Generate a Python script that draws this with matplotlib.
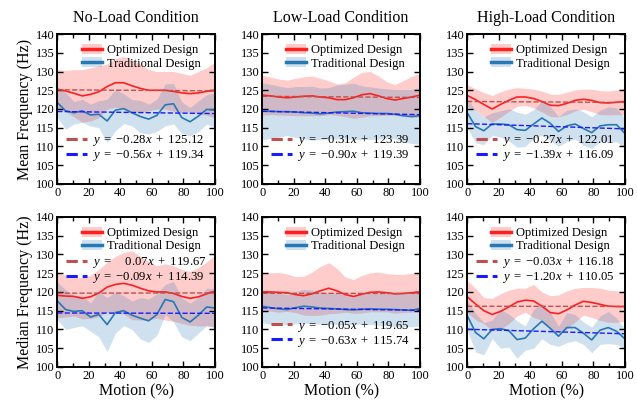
import numpy as np
import matplotlib
matplotlib.use("Agg")
import matplotlib.pyplot as plt
from matplotlib.patches import Patch
from matplotlib.lines import Line2D

# === STYLE ===
plt.rcParams['font.family'] = ['Liberation Serif', 'DejaVu Serif']
plt.rcParams['mathtext.fontset'] = 'custom'
plt.rcParams['mathtext.rm'] = 'Liberation Serif'
plt.rcParams['mathtext.it'] = 'Liberation Serif:italic'
plt.rcParams['mathtext.bf'] = 'Liberation Serif:bold'

OPT_LINE = '#ff1f1f'
OPT_FIT = '#c0504d'
TRAD_LINE = '#2878b5'
TRAD_FIT = '#1a1aff'

# === DATA ===
motion = np.linspace(0, 100, 20)

conditions = ["No-Load Condition", "Low-Load Condition", "High-Load Condition"]
row_labels = ["Mean Frequency (Hz)", "Median Frequency (Hz)"]

# mean frequency
mean_opt_noload = [125.3, 124.8, 124.2, 123.5, 123.9, 124.6, 126.0, 127.0, 127.0, 126.2,
                   125.5, 125.0, 125.0, 125.0, 124.7, 124.3, 124.1, 124.3, 124.7, 125.0]
mean_opt_noload_sd = [5.2, 5.5, 6.3, 7.0, 7.1, 6.9, 6.0, 6.5, 7.0, 6.8,
                      6.5, 5.5, 5.0, 5.0, 5.3, 5.2, 4.9, 5.7, 6.3, 7.5]
mean_trad_noload = [121.7, 119.5, 119.0, 119.5, 118.4, 118.6, 116.8, 119.7, 120.1, 119.0,
                    118.0, 117.3, 118.3, 121.1, 121.4, 117.7, 116.6, 118.1, 119.9, 119.7]
mean_trad_noload_sd = [4.0, 4.9, 3.0, 3.1, 2.9, 3.6, 5.8, 5.5, 4.0, 3.5,
                       4.3, 4.0, 4.3, 5.6, 5.4, 4.2, 3.8, 4.1, 3.9, 4.7]

mean_opt_low = [123.7, 123.5, 123.2, 123.0, 123.2, 123.4, 123.5, 123.2, 123.0, 122.5,
                122.5, 123.0, 123.8, 124.1, 123.5, 122.8, 122.4, 122.8, 123.2, 123.7]
mean_opt_low_sd = [5.3, 5.0, 4.8, 4.7, 5.0, 5.2, 5.3, 5.0, 4.5, 4.2,
                   4.5, 5.5, 6.0, 5.9, 5.3, 4.5, 4.1, 4.8, 5.5, 5.8]
mean_trad_low = [119.4, 119.4, 119.3, 119.3, 119.2, 119.0, 118.9, 118.7, 118.9, 119.2,
                 119.3, 119.4, 119.0, 118.9, 118.8, 118.8, 118.6, 118.2, 118.0, 118.2]
mean_trad_low_sd = [7.6, 7.2, 6.8, 6.4, 6.8, 7.0, 7.2, 6.9, 6.8, 7.2,
                    7.3, 7.5, 7.2, 7.0, 6.8, 6.6, 6.6, 7.0, 7.2, 7.6]

mean_opt_high = [123.6, 122.5, 121.2, 120.0, 121.2, 122.3, 123.2, 123.2, 122.8, 122.0,
                 121.0, 120.9, 121.5, 122.3, 122.6, 122.3, 121.7, 121.6, 121.8, 122.0]
mean_opt_high_sd = [2.9, 2.9, 3.2, 3.6, 3.4, 3.0, 2.5, 2.3, 2.5, 2.8,
                    3.0, 3.0, 3.0, 2.8, 2.7, 3.0, 3.2, 3.2, 3.3, 3.6]
mean_trad_high = [119.0, 115.3, 114.2, 116.0, 116.0, 115.8, 114.5, 114.3, 116.0, 117.6,
                  116.2, 114.0, 115.5, 116.0, 114.8, 113.7, 115.5, 115.8, 115.8, 113.5]
mean_trad_high_sd = [4.0, 4.3, 3.7, 3.0, 3.5, 4.3, 4.7, 4.3, 3.8, 4.6,
                     4.5, 4.0, 4.2, 4.0, 4.5, 4.2, 4.2, 4.8, 4.5, 4.0]

# median frequency
med_opt_noload = [119.1, 118.9, 118.8, 118.3, 118.7, 119.7, 121.3, 122.0, 122.3, 121.8,
                  121.0, 120.3, 120.0, 120.0, 119.6, 118.8, 118.3, 118.7, 119.5, 120.2]
med_opt_noload_sd = [6.0, 5.6, 5.2, 5.5, 5.8, 6.3, 6.7, 7.5, 8.2, 9.2,
                     8.5, 7.7, 7.0, 7.5, 7.4, 7.2, 7.2, 7.8, 8.5, 9.6]
med_trad_noload = [117.6, 115.3, 114.8, 115.0, 113.3, 114.0, 111.3, 114.5, 115.0, 113.8,
                   113.0, 112.3, 114.0, 118.0, 117.4, 113.2, 112.0, 113.8, 116.0, 115.7]
med_trad_noload_sd = [5.0, 5.3, 4.3, 4.0, 3.8, 6.0, 7.2, 5.5, 4.0, 3.8,
                      5.5, 5.8, 5.5, 4.0, 5.4, 5.2, 5.0, 4.8, 5.0, 5.2]

med_opt_low = [120.0, 120.0, 119.9, 119.8, 119.3, 119.0, 119.5, 120.3, 121.0, 120.3,
               119.3, 118.8, 119.4, 119.9, 120.0, 119.8, 119.5, 119.6, 119.8, 120.0]
med_opt_low_sd = [5.0, 5.1, 5.3, 5.0, 4.8, 5.2, 5.8, 6.5, 6.8, 6.0,
                  4.7, 4.5, 5.0, 5.2, 5.3, 5.1, 5.2, 5.1, 5.2, 5.0]
med_trad_low = [116.2, 115.8, 115.5, 115.3, 115.8, 116.2, 116.0, 115.7, 115.6, 115.5,
                115.3, 115.2, 115.4, 115.5, 115.4, 115.4, 115.3, 115.2, 115.1, 115.6]
med_trad_low_sd = [4.4, 4.4, 4.3, 4.0, 4.3, 4.5, 4.5, 4.3, 4.1, 4.2,
                   4.0, 3.8, 4.0, 4.2, 4.3, 4.4, 4.5, 4.4, 4.4, 4.7]

med_opt_high = [118.7, 116.8, 115.0, 114.0, 114.8, 116.0, 117.3, 117.8, 117.6, 116.2,
                114.5, 114.2, 115.2, 116.5, 117.5, 117.2, 116.7, 116.2, 116.1, 116.1]
med_opt_high_sd = [4.3, 4.2, 3.5, 4.3, 4.7, 4.5, 3.7, 3.2, 4.4, 3.8,
                   4.5, 5.0, 5.1, 4.5, 3.7, 4.0, 4.3, 4.3, 4.2, 3.9]
med_trad_high = [113.7, 109.2, 107.5, 110.0, 110.2, 109.7, 107.3, 107.7, 110.2, 112.2,
                 110.3, 108.2, 110.5, 110.5, 109.0, 107.2, 109.8, 110.5, 109.5, 107.5]
med_trad_high_sd = [4.0, 5.2, 4.3, 2.5, 5.2, 4.4, 5.0, 3.2, 5.2, 4.7,
                    4.3, 2.7, 4.0, 3.5, 3.0, 3.4, 3.8, 4.3, 3.5, 2.5]

# linear fit coefficients (slope per unit motion fraction, intercept)
fit_opt_slope = [[-0.28, -0.31, -0.27], [0.07, -0.05, -0.03]]
fit_opt_icpt = [[125.12, 123.39, 122.01], [119.67, 119.65, 116.18]]
fit_trad_slope = [[-0.56, -0.90, -1.39], [-0.09, -0.63, -1.20]]
fit_trad_icpt = [[119.34, 119.39, 116.09], [114.39, 115.74, 110.05]]

opt_series = [[(mean_opt_noload, mean_opt_noload_sd), (mean_opt_low, mean_opt_low_sd),
               (mean_opt_high, mean_opt_high_sd)],
              [(med_opt_noload, med_opt_noload_sd), (med_opt_low, med_opt_low_sd),
               (med_opt_high, med_opt_high_sd)]]
trad_series = [[(mean_trad_noload, mean_trad_noload_sd), (mean_trad_low, mean_trad_low_sd),
                (mean_trad_high, mean_trad_high_sd)],
               [(med_trad_noload, med_trad_noload_sd), (med_trad_low, med_trad_low_sd),
                (med_trad_high, med_trad_high_sd)]]

# vertical position of the fit legend in each panel (axes fraction)
fit_legend_y = [[0.24, 0.24, 0.24], [0.645, 0.22, 0.645]]


def fit_label(slope, icpt):
    if slope < 0:
        return r'$y\ =\ {-}%.2fx\ +\ %.2f$' % (abs(slope), icpt)
    return r'$y\ =\ \ \ \ %.2fx\ +\ %.2f$' % (slope, icpt)


# === PLOT ===
fig, axes = plt.subplots(2, 3, figsize=(6.37, 4.05), dpi=100)
fig.subplots_adjust(left=0.09, right=0.981, top=0.916, bottom=0.094,
                    wspace=0.30, hspace=0.22)

for r in range(2):
    for c in range(3):
        ax = axes[r, c]
        om, osd = np.array(opt_series[r][c][0]), np.array(opt_series[r][c][1])
        tm, tsd = np.array(trad_series[r][c][0]), np.array(trad_series[r][c][1])

        ax.fill_between(motion, om - osd, om + osd, color='#ff0000', alpha=0.2, lw=0)
        ax.fill_between(motion, tm - tsd, tm + tsd, color=TRAD_LINE, alpha=0.22, lw=0)
        ax.plot(motion, om, color=OPT_LINE, lw=1.2)
        ax.plot(motion, tm, color=TRAD_LINE, lw=1.2)

        xf = np.array([0, 100])
        ax.plot(xf, fit_opt_icpt[r][c] + fit_opt_slope[r][c] * xf / 100,
                ls='--', color=OPT_FIT, lw=1.0)
        ax.plot(xf, fit_trad_icpt[r][c] + fit_trad_slope[r][c] * xf / 100,
                ls='--', color=TRAD_FIT, lw=1.0)

        ax.set_xlim(0, 100)
        ax.set_ylim(100, 140)
        ax.set_xticks(np.arange(0, 101, 20))
        ax.set_xticks(np.arange(10, 100, 20), minor=True)
        ax.set_yticks(np.arange(100, 141, 5))
        ax.tick_params(which='both', direction='in', top=True, right=True,
                       labelsize=9, width=1.0, pad=2)
        ax.tick_params(which='major', length=4)
        ax.tick_params(which='minor', length=3)
        for sp in ax.spines.values():
            sp.set_linewidth(1.4)

        h1 = (Patch(color='#ff0000', alpha=0.2, lw=0), Line2D([], [], color=OPT_LINE, lw=2.5))
        h2 = (Patch(color=TRAD_LINE, alpha=0.22, lw=0), Line2D([], [], color=TRAD_LINE, lw=2.5))
        leg1 = ax.legend([h1, h2], ['Optimized Design', 'Traditional Design'],
                         loc='upper center', bbox_to_anchor=(0.53, 0.99), frameon=False,
                         fontsize=9, handlelength=1.6, handleheight=0.8,
                         handletextpad=0.4, labelspacing=0.08, borderaxespad=0.3)
        ax.add_artist(leg1)

        f1 = Line2D([], [], ls='--', color=OPT_FIT, lw=2.2)
        f2 = Line2D([], [], ls='--', color=TRAD_FIT, lw=2.2)
        ax.legend([f1, f2],
                  [fit_label(fit_opt_slope[r][c], fit_opt_icpt[r][c]),
                   fit_label(fit_trad_slope[r][c], fit_trad_icpt[r][c])],
                  loc='center left', bbox_to_anchor=(0.0, fit_legend_y[r][c]),
                  frameon=False, fontsize=9.2, handlelength=1.6,
                  handletextpad=0.4, labelspacing=0.0, borderaxespad=0.3)

        if r == 0:
            ax.set_title(conditions[c], fontsize=11.5, pad=9)
        else:
            ax.set_xlabel('Motion (%)', fontsize=11.5, labelpad=1)
        if c == 0:
            ax.set_ylabel(row_labels[r], fontsize=11.5, labelpad=2)

fig.savefig('out.png', dpi=100)
